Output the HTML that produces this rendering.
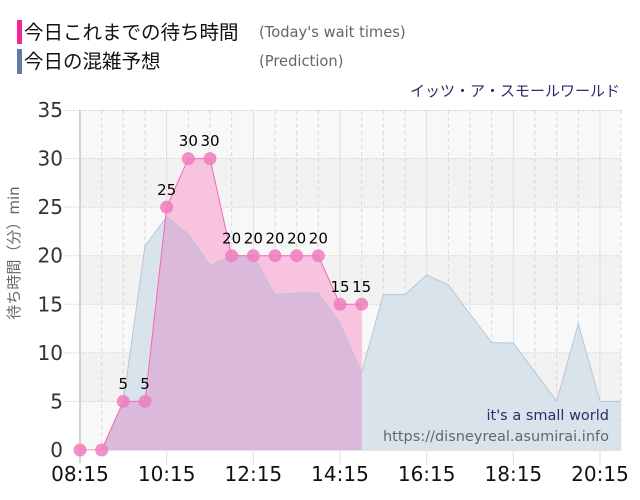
<!DOCTYPE html>
<html><head><meta charset="utf-8"><style>
html,body{margin:0;padding:0;background:#fff;}
svg{display:block;}
.tk{font-family:"DejaVu Sans","Liberation Sans",sans-serif;font-size:20px;}
.dl{font-family:"DejaVu Sans","Liberation Sans",sans-serif;font-size:15px;fill:#000;text-anchor:middle;}
</style></head><body>
<svg width="640" height="500" viewBox="0 0 640 500" xmlns="http://www.w3.org/2000/svg">
<defs>
<clipPath id="pk"><polygon points="80,450 101.67,450 123.33,401.4 145,401.4 166.67,207.1 188.33,158.6 210,158.6 231.67,255.7 253.33,255.7 275,255.7 296.67,255.7 318.33,255.7 340,304.3 361.67,304.3 361.67,450"/></clipPath>
</defs>
<!-- legend -->
<rect x="17" y="20" width="5" height="24" fill="#f0259a"/>
<rect x="17" y="49" width="5" height="25" fill="#6578a6"/>
<text x="24" y="39" font-family="'Liberation Sans','Noto Sans CJK JP',sans-serif" font-size="19.5" fill="#111">今日これまでの待ち時間</text>
<text x="24" y="68" font-family="'Liberation Sans','Noto Sans CJK JP',sans-serif" font-size="19.5" fill="#111">今日の混雑予想</text>
<text x="259" y="37" font-family="'DejaVu Sans',sans-serif" font-size="14.7" fill="#666">(Today's wait times)</text>
<text x="259" y="66" font-family="'DejaVu Sans',sans-serif" font-size="14.7" fill="#666">(Prediction)</text>
<text x="620" y="96" text-anchor="end" font-family="'Liberation Sans','Noto Sans CJK JP',sans-serif" font-size="15" fill="#2c2c6c">イッツ・ア・スモールワールド</text>

<!-- plot background bands -->
<rect x="80" y="110" width="541" height="340" fill="#f8f8f8"/>
<rect x="80" y="158.6" width="541" height="48.6" fill="#f2f2f2"/>
<rect x="80" y="255.7" width="541" height="48.6" fill="#f2f2f2"/>
<rect x="80" y="352.9" width="541" height="48.6" fill="#f2f2f2"/>

<!-- vertical grid -->
<g stroke="#d8d8d8" stroke-width="1" stroke-dasharray="4,3">
<line x1="101.67" y1="110" x2="101.67" y2="450"/><line x1="123.33" y1="110" x2="123.33" y2="450"/><line x1="145" y1="110" x2="145" y2="450"/>
<line x1="188.33" y1="110" x2="188.33" y2="450"/><line x1="210" y1="110" x2="210" y2="450"/><line x1="231.67" y1="110" x2="231.67" y2="450"/>
<line x1="275" y1="110" x2="275" y2="450"/><line x1="296.67" y1="110" x2="296.67" y2="450"/><line x1="318.33" y1="110" x2="318.33" y2="450"/>
<line x1="361.67" y1="110" x2="361.67" y2="450"/><line x1="383.33" y1="110" x2="383.33" y2="450"/><line x1="405" y1="110" x2="405" y2="450"/>
<line x1="448.33" y1="110" x2="448.33" y2="450"/><line x1="470" y1="110" x2="470" y2="450"/><line x1="491.67" y1="110" x2="491.67" y2="450"/>
<line x1="535" y1="110" x2="535" y2="450"/><line x1="556.67" y1="110" x2="556.67" y2="450"/><line x1="578.33" y1="110" x2="578.33" y2="450"/>
<line x1="621" y1="110" x2="621" y2="450"/>
</g>
<g stroke="#dedede" stroke-width="1">
<line x1="166.67" y1="110" x2="166.67" y2="465"/><line x1="253.33" y1="110" x2="253.33" y2="465"/>
<line x1="340" y1="110" x2="340" y2="465"/><line x1="426.67" y1="110" x2="426.67" y2="465"/>
<line x1="513.33" y1="110" x2="513.33" y2="465"/><line x1="600" y1="110" x2="600" y2="465"/>
</g>
<!-- horizontal grid -->
<g stroke="#cfcfcf" stroke-width="1" stroke-dasharray="1.5,1.5">
<line x1="64" y1="110.5" x2="621" y2="110.5"/><line x1="64" y1="158.6" x2="621" y2="158.6"/><line x1="64" y1="207.1" x2="621" y2="207.1"/>
<line x1="64" y1="255.7" x2="621" y2="255.7"/><line x1="64" y1="304.3" x2="621" y2="304.3"/><line x1="64" y1="352.9" x2="621" y2="352.9"/>
<line x1="64" y1="401.4" x2="621" y2="401.4"/>
</g>

<!-- prediction area -->
<polygon points="101.67,450 123.33,401.4 145,246 166.67,216.9 188.33,234 210,265.4 231.67,255.7 253.33,255.7 275,294.6 296.67,293 318.33,293 340,323.7 361.67,372.3 383.33,294.6 405,294.6 426.67,275.1 448.33,284.9 470,314 491.67,342.5 513.33,343.1 535,372.3 556.67,401.4 578.33,323.7 600,401.4 621,401.4 621,450" fill="#d9e3eb"/>
<!-- pink area -->
<polygon points="80,450 101.67,450 123.33,401.4 145,401.4 166.67,207.1 188.33,158.6 210,158.6 231.67,255.7 253.33,255.7 275,255.7 296.67,255.7 318.33,255.7 340,304.3 361.67,304.3 361.67,450" fill="#f8c3df"/>
<!-- overlap -->
<polygon clip-path="url(#pk)" points="101.67,450 123.33,401.4 145,246 166.67,216.9 188.33,234 210,265.4 231.67,255.7 253.33,255.7 275,294.6 296.67,293 318.33,293 340,323.7 361.67,372.3 383.33,294.6 405,294.6 426.67,275.1 448.33,284.9 470,314 491.67,342.5 513.33,343.1 535,372.3 556.67,401.4 578.33,323.7 600,401.4 621,401.4 621,450" fill="#dcb9da"/>
<polyline points="101.67,450 123.33,401.4 145,246 166.67,216.9 188.33,234 210,265.4 231.67,255.7 253.33,255.7 275,294.6 296.67,293 318.33,293 340,323.7 361.67,372.3 383.33,294.6 405,294.6 426.67,275.1 448.33,284.9 470,314 491.67,342.5 513.33,343.1 535,372.3 556.67,401.4 578.33,323.7 600,401.4 621,401.4" fill="none" stroke="#b7c6d5" stroke-width="1" stroke-linejoin="round"/>
<polyline points="80,450 101.67,450 123.33,401.4 145,401.4 166.67,207.1 188.33,158.6 210,158.6 231.67,255.7 253.33,255.7 275,255.7 296.67,255.7 318.33,255.7 340,304.3 361.67,304.3" fill="none" stroke="#f06ab6" stroke-width="1" stroke-linejoin="round"/>

<!-- axis -->
<line x1="80" y1="110" x2="80" y2="463" stroke="#aaa" stroke-width="1"/>
<line x1="80" y1="450.5" x2="621" y2="450.5" stroke="#e4e4e4" stroke-width="1"/>

<!-- markers -->
<g fill="#ee7cbf" fill-opacity="0.85">
<circle cx="80" cy="450" r="6.5"/><circle cx="101.67" cy="450" r="6.5"/><circle cx="123.33" cy="401.4" r="6.5"/><circle cx="145" cy="401.4" r="6.5"/>
<circle cx="166.67" cy="207.1" r="6.5"/><circle cx="188.33" cy="158.6" r="6.5"/><circle cx="210" cy="158.6" r="6.5"/><circle cx="231.67" cy="255.7" r="6.5"/>
<circle cx="253.33" cy="255.7" r="6.5"/><circle cx="275" cy="255.7" r="6.5"/><circle cx="296.67" cy="255.7" r="6.5"/><circle cx="318.33" cy="255.7" r="6.5"/>
<circle cx="340" cy="304.3" r="6.5"/><circle cx="361.67" cy="304.3" r="6.5"/>
</g>

<!-- data labels -->
<text class="dl" x="123.33" y="389">5</text><text class="dl" x="145" y="389">5</text>
<text class="dl" x="166.67" y="195">25</text>
<text class="dl" x="188.33" y="146">30</text><text class="dl" x="210" y="146">30</text>
<text class="dl" x="231.67" y="243.7">20</text><text class="dl" x="253.33" y="243.7">20</text><text class="dl" x="275" y="243.7">20</text><text class="dl" x="296.67" y="243.7">20</text><text class="dl" x="318.33" y="243.7">20</text>
<text class="dl" x="340" y="292">15</text><text class="dl" x="361.67" y="292">15</text>

<!-- y tick labels -->
<g class="tk" fill="#333" text-anchor="end">
<text x="63" y="117">35</text><text x="63" y="165.6">30</text><text x="63" y="214.1">25</text><text x="63" y="262.7">20</text>
<text x="63" y="311.3">15</text><text x="63" y="359.9">10</text><text x="63" y="408.4">5</text><text x="63" y="457">0</text>
</g>
<!-- x tick labels -->
<g class="tk" fill="#111" text-anchor="middle">
<text x="80" y="481">08:15</text><text x="166.67" y="481">10:15</text><text x="253.33" y="481">12:15</text><text x="340" y="481">14:15</text>
<text x="426.67" y="481">16:15</text><text x="513.33" y="481">18:15</text><text x="600" y="481">20:15</text>
</g>

<!-- y axis title -->
<text transform="translate(19,253) rotate(-90)" text-anchor="middle" font-family="'DejaVu Sans','Noto Sans CJK JP',sans-serif" font-size="15" fill="#666">待ち時間（分）min</text>

<!-- watermark -->
<text x="609" y="420" text-anchor="end" font-family="'DejaVu Sans',sans-serif" font-size="14.5" fill="#2c2c6c">it's a small world</text>
<text x="609" y="441" text-anchor="end" font-family="'DejaVu Sans',sans-serif" font-size="14.5" fill="#666">https://disneyreal.asumirai.info</text>
</svg>
</body></html>
